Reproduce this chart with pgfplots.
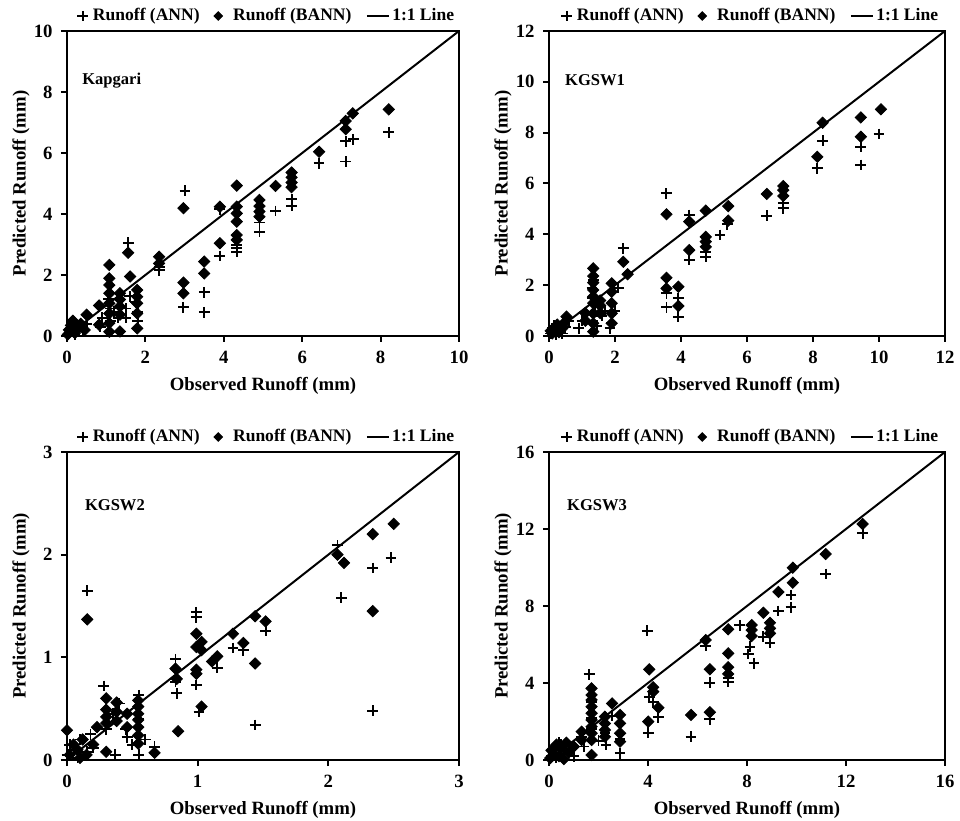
\documentclass[border=0pt]{standalone}
\usepackage{fontspec}
\setmainfont{Liberation Serif}
\usepackage{pgfplots}
\pgfplotsset{compat=1.18}

\newcommand{\bfs}{\bfseries\fontsize{9.4}{11}\selectfont}
\newcommand{\bfl}{\bfseries\fontsize{8.8}{10}\selectfont}
\tikzset{lbl/.style={font=\bfseries\fontsize{8.3}{10}\selectfont, anchor=west, inner sep=0pt}}

\pgfplotsset{
  runoff/.style={
    scale only axis, anchor=south west, clip=false,
    axis line style={line width=1bp},
    tick style={line width=1bp, black},
    tick align=outside, major tick length=3bp,
    xtick pos=bottom, ytick pos=left,
    /pgf/number format/assume math mode=true,
    tick label style={font=\bfs},
    xticklabel style={anchor=north, inner sep=0pt, yshift=-4.5bp},
    yticklabel style={anchor=east, inner sep=0pt, xshift=-4bp},
    xlabel={Observed Runoff (mm)}, ylabel={Predicted Runoff (mm)},
    every axis x label/.style={at={(axis description cs:0.5,0)}, anchor=center, yshift=-25bp, font=\bfs},
    every axis y label/.style={at={(axis description cs:0,0.5)}, xshift=-23bp, rotate=90, anchor=center, font=\bfs},
    legend style={at={(0.5,1)}, anchor=center, xshift=2bp, yshift=7.5bp, draw=none, fill=none,
      legend columns=3, inner sep=0pt, font=\bfl,
      nodes={inner sep=1.2bp},
      /tikz/every even column/.append style={column sep=6bp}},
  },
  ann/.style={only marks, mark=+, mark size=2.7bp, line width=0.95bp, black,
    legend image code/.code={\draw[mark=+, mark size=2.6bp, line width=0.9bp] plot coordinates {(0bp,0bp)} (3.5bp,0bp);}},
  bann/.style={only marks, mark=square*, mark size=2.0bp, black, mark options={rotate=45},
    legend image code/.code={\draw[fill=black, mark=square*, mark size=1.5bp, mark options={rotate=45}] plot coordinates {(0bp,0bp)} (6bp,0bp);}},
  oneline/.style={black, line width=1bp, no marks,
    legend image code/.code={\draw[line width=1bp] (0bp,0bp) -- (11bp,0bp);}},
}

\begin{document}
\begin{tikzpicture}
\path[use as bounding box] (0,0) rectangle (480bp,410.5bp);

% Kapgari
\begin{axis}[runoff, at={(33.5bp,242.5bp)}, width=196bp, height=152.5bp,
  xmin=0, xmax=10, ymin=0, ymax=10, xtick={0,2,...,10}, ytick={0,2,...,10}]
\addplot[ann] coordinates {
(0.05,0.1)(0.1,0.2)(0.2,0.05)(0.3,0.3)(0.15,0.35)(0.4,0.15)(0.5,0.4)(0.85,0.3)(0.9,0.6)
(1.05,1.2)(1.1,0.9)(1.1,0.5)(1.2,0.8)(1.3,0.6)(1.35,1.0)(1.5,0.6)(1.5,0.9)(1.56,3.06)
(1.6,1.3)(1.75,1.1)(1.8,0.5)(1.8,0.8)(2.35,2.27)(2.35,2.16)(2.97,0.94)(3.01,4.76)
(3.5,1.43)(3.5,0.78)(3.9,2.62)(3.9,4.15)(4.33,2.98)(4.33,2.89)(4.33,2.76)(4.91,3.72)
(4.91,3.42)(5.32,4.10)(5.73,4.48)(5.73,4.26)(6.43,5.66)(7.11,6.38)(7.11,5.72)(7.3,6.45)(8.21,6.68)};
\addplot[bann] coordinates {
(0.05,0.2)(0.1,0.35)(0.2,0.1)(0.25,0.25)(0.35,0.4)(0.5,0.7)(0.45,0.2)(0.02,0.05)(0.15,0.5)(0.82,1.0)(0.82,0.37)
(1.08,2.33)(1.08,1.89)(1.08,1.67)(1.08,1.40)(1.08,1.07)(1.08,0.74)(1.08,0.42)(1.08,0.14)
(1.35,1.4)(1.35,1.2)(1.35,0.97)(1.35,0.7)(1.35,0.15)(1.56,2.73)(1.61,1.95)(1.79,1.51)
(1.79,1.29)(1.79,1.07)(1.79,0.74)(1.79,0.25)(2.35,2.6)(2.35,2.38)(2.97,4.19)(2.97,1.75)
(2.97,1.4)(3.5,2.44)(3.5,2.05)(3.9,4.24)(3.9,3.04)(4.33,4.93)(4.33,4.24)(4.33,4.02)
(4.33,3.75)(4.33,3.31)(4.33,3.15)(4.91,4.46)(4.91,4.26)(4.91,4.08)(4.91,3.91)(5.32,4.92)
(5.73,5.36)(5.73,5.2)(5.73,5.03)(5.73,4.88)(6.43,6.04)(7.11,7.05)(7.11,6.78)(7.29,7.3)(8.21,7.43)};
\addplot[oneline] coordinates {(0,0)(10,10)};
\legend{Runoff (ANN), Runoff (BANN), 1:1 Line}
\node[lbl] at (rel axis cs:0.038,0.838) {Kapgari};
\end{axis}

% KGSW1
\begin{axis}[runoff, at={(274.5bp,242.5bp)}, width=198bp, height=152.5bp,
  xmin=0, xmax=12, ymin=0, ymax=12, xtick={0,2,...,12}, ytick={0,2,...,12}]
\addplot[ann] coordinates {
(0.05,0.1)(0.1,0.3)(0.2,0.05)(0.3,0.2)(0.15,0.4)(0.4,0.1)(0.5,0.35)(0.6,0.6)
(0.9,0.3)(1.0,0.6)(1.1,0.9)(1.3,1.5)(1.3,1.9)(1.35,2.2)(1.4,1.2)(1.45,0.4)(1.6,0.8)
(1.7,1.0)(1.85,0.3)(1.9,0.5)(2.0,1.0)(2.1,1.9)(2.25,3.45)(3.55,5.61)(3.56,1.68)(3.56,1.13)
(3.92,1.48)(3.92,0.76)(4.25,4.76)(4.25,2.99)(4.75,3.32)(4.75,3.12)(5.18,3.97)(5.4,4.4)
(6.6,4.73)(7.1,5.22)(7.1,5.02)(8.13,6.6)(8.29,7.68)(9.45,7.45)(9.45,6.73)(10.0,7.95)};
\addplot[bann] coordinates {
(0.05,0.2)(0.1,0.1)(0.2,0.35)(0.3,0.15)(0.4,0.3)(0.53,0.76)(0.45,0.5)(0.25,0.45)
(1.1,0.9)(1.1,0.6)(1.34,2.66)(1.34,2.36)(1.34,2.1)(1.34,1.81)(1.34,1.55)(1.34,1.29)
(1.34,0.89)(1.34,0.5)(1.34,0.17)(1.55,1.4)(1.55,1.2)(1.55,0.9)(1.9,2.07)(1.9,1.74)
(1.9,1.29)(1.9,0.89)(1.9,0.5)(2.25,2.92)(2.38,2.43)(3.56,4.79)(3.56,2.29)(3.56,1.87)
(3.92,1.94)(3.92,1.18)(4.25,4.5)(4.25,3.38)(4.75,4.93)(4.75,3.9)(4.75,3.71)(4.75,3.51)
(5.43,5.11)(5.43,4.54)(6.6,5.59)(7.1,5.9)(7.1,5.74)(7.1,5.51)(8.13,7.05)(8.29,8.39)
(9.45,8.6)(9.45,7.84)(10.06,8.92)};
\addplot[oneline] coordinates {(0,0)(12,12)};
\legend{Runoff (ANN), Runoff (BANN), 1:1 Line}
\node[lbl] at (rel axis cs:0.04,0.838) {KGSW1};
\end{axis}

% KGSW2
\begin{axis}[runoff, at={(33.5bp,30.5bp)}, width=196bp, height=154bp,
  xmin=0, xmax=3, ymin=0, ymax=3, xtick={0,1,2,3}, ytick={0,1,2,3}]
\addplot[ann] coordinates {
(0.0,0.05)(0.02,0.15)(0.05,0.1)(0.08,0.02)(0.1,0.2)(0.15,0.08)(0.18,0.25)(0.2,0.12)
(0.155,1.65)(0.28,0.72)(0.3,0.3)(0.35,0.45)(0.4,0.55)(0.45,0.3)(0.46,0.22)(0.5,0.15)
(0.55,0.63)(0.55,0.4)(0.55,0.05)(0.6,0.2)(0.67,0.13)(0.37,0.05)(0.83,0.98)(0.83,0.76)
(0.84,0.65)(0.99,1.44)(0.99,1.39)(0.99,0.73)(1.01,0.47)(1.15,0.9)(1.27,1.09)(1.35,1.07)
(1.44,0.34)(1.52,1.26)(2.07,2.09)(2.10,1.58)(2.34,1.87)(2.34,0.48)(2.48,1.97)};
\addplot[bann] coordinates {
(0.0,0.29)(0.02,0.05)(0.05,0.15)(0.08,0.1)(0.1,0.02)(0.12,0.2)(0.15,0.05)(0.2,0.15)
(0.23,0.32)(0.155,1.37)(0.30,0.6)(0.30,0.49)(0.30,0.42)(0.30,0.36)(0.30,0.08)(0.38,0.56)
(0.38,0.47)(0.38,0.38)(0.46,0.45)(0.46,0.32)(0.545,0.58)(0.545,0.52)(0.545,0.45)
(0.545,0.39)(0.545,0.32)(0.545,0.24)(0.545,0.16)(0.67,0.07)(0.83,0.89)(0.84,0.79)
(0.85,0.28)(0.99,0.88)(0.99,0.84)(1.03,0.52)(0.99,1.23)(1.03,1.15)(0.99,1.10)(1.03,1.07)
(1.11,0.96)(1.15,1.01)(1.27,1.23)(1.35,1.14)(1.44,1.40)(1.44,0.94)(1.52,1.35)(2.07,2.0)
(2.12,1.92)(2.34,2.2)(2.34,1.45)(2.50,2.30)};
\addplot[oneline] coordinates {(0,0)(3,3)};
\legend{Runoff (ANN), Runoff (BANN), 1:1 Line}
\node[lbl] at (rel axis cs:0.045,0.828) {KGSW2};
\end{axis}

% KGSW3
\begin{axis}[runoff, at={(274.5bp,30.5bp)}, width=198bp, height=154bp,
  xmin=0, xmax=16, ymin=0, ymax=16, xtick={0,4,...,16}, ytick={0,4,...,16}]
\addplot[ann] coordinates {
(0.1,0.2)(0.2,0.5)(0.3,0.1)(0.5,0.8)(0.6,0.3)(0.8,0.6)(1.0,0.2)(0.4,0.9)
(1.32,1.2)(1.4,0.7)(1.62,4.45)(1.72,3.0)(1.72,2.2)(1.72,1.6)(2.0,1.0)(2.26,1.4)(2.3,0.8)
(2.55,2.3)(2.87,0.35)(2.87,1.1)(3.97,6.72)(4.01,1.42)(4.05,3.29)(4.21,3.0)(4.42,2.22)
(5.74,1.21)(6.33,5.92)(6.5,4.02)(6.5,2.11)(7.24,4.24)(7.24,4.07)(7.7,7.0)(8.12,5.89)
(8.05,5.51)(8.28,5.02)(8.66,6.4)(8.93,6.1)(9.27,7.74)(9.78,8.57)(9.78,7.93)(11.18,9.66)(12.67,11.78)};
\addplot[bann] coordinates {
(0.05,0.1)(0.1,0.5)(0.2,0.3)(0.3,0.8)(0.4,0.2)(0.5,0.6)(0.7,0.9)(0.8,0.4)(1.0,0.7)(0.6,0.05)
(1.32,1.47)(1.32,1.04)(1.72,3.72)(1.72,3.38)(1.72,3.12)(1.72,2.77)(1.72,2.43)(1.72,2.08)
(1.72,1.73)(1.72,1.39)(1.72,1.04)(1.72,0.26)(2.26,2.25)(2.26,1.9)(2.26,1.56)(2.26,1.21)
(2.55,2.94)(2.87,2.34)(2.87,1.9)(2.87,1.39)(2.87,0.95)(4.05,4.71)(4.21,3.78)(4.21,3.55)
(4.42,2.72)(4.01,1.99)(5.74,2.34)(6.33,6.23)(6.5,4.71)(6.5,2.48)(7.24,6.79)(7.24,5.54)
(7.24,4.82)(7.24,4.47)(8.19,7.01)(8.19,6.75)(8.19,6.44)(8.66,7.65)(8.93,7.13)(8.93,6.84)
(8.93,6.58)(9.27,8.73)(9.85,9.99)(9.85,9.21)(11.18,10.7)(12.67,12.26)};
\addplot[oneline] coordinates {(0,0)(16,16)};
\legend{Runoff (ANN), Runoff (BANN), 1:1 Line}
\node[lbl] at (rel axis cs:0.045,0.828) {KGSW3};
\end{axis}
\end{tikzpicture}
\end{document}
